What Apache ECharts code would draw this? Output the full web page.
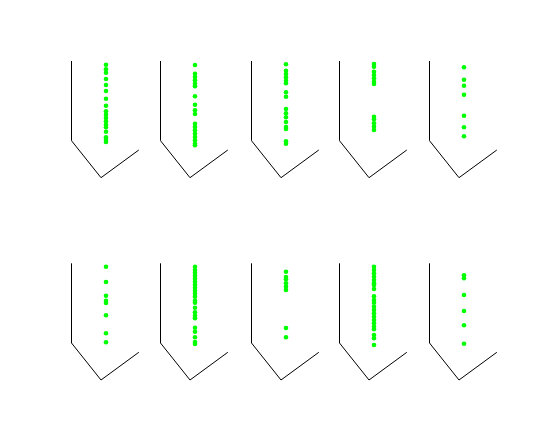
<!DOCTYPE html>
<html><head><meta charset="utf-8">
<script src="https://cdn.jsdelivr.net/npm/echarts@6/dist/echarts.min.js"></script>
<style>html,body{margin:0;padding:0;background:#fff}#c{width:550px;height:427px}</style>
</head><body><div id="c"></div>
<script>
// Outline of each hopper (same in every panel)
const outlineX = [0, 0, 29.5, 67.3];
const outlineY = [116.7, 37, 0, 27.7];
// Horizontal position of the particle column
const dotX = 34.5;
// Particle heights per panel
const dots1 = [113, 108.4, 105, 98.7, 92.7, 86.7, 79, 72, 66.4, 63, 59.7, 56.4, 53, 50.4, 46, 40.4, 38, 35.7];
const dots2 = [112.7, 104, 100.7, 97.4, 94, 91.4, 81.4, 73, 67.4, 63.7, 54, 50.7, 47.4, 44, 40.7, 37.4, 34, 32.4];
const dots3 = [113.4, 107, 103.7, 100.4, 97, 94.4, 85.4, 81, 68.7, 64.4, 60.4, 55.7, 50.7, 48.7, 36.4, 34];
const dots4 = [113.7, 111, 106, 102.7, 99.4, 96, 93.7, 61, 58.4, 54.4, 51, 47.7];
const dots5 = [110.4, 98, 92, 83, 62, 50.4, 41.4];
const dots6 = [113.3, 98, 84.3, 79.3, 77, 64.7, 46.7, 37.7];
const dots7 = [113.3, 110, 107.3, 104.3, 101.3, 98.3, 95.3, 92.3, 89.3, 86.3, 83.3, 79.3, 77.3, 72.3, 67.7, 64.3, 61.7, 52.3, 48.3, 42.7, 38, 36];
const dots8 = [108.3, 103, 100.7, 96.7, 93.3, 90, 52, 42.7];
const dots9 = [113.3, 110, 106.7, 103.3, 100, 96.7, 95, 91, 83.7, 80, 77.3, 73.3, 70, 66.7, 63.3, 60, 56.7, 53.3, 50.7, 45, 41.7, 35];
const dots10 = [104.7, 101.7, 85, 69, 54.7, 36.3];
const panels = [dots1, dots2, dots3, dots4, dots5, dots6, dots7, dots8, dots9, dots10];

// layout
const panelLeft = [71.5, 160.5, 251.5, 339.5, 429.5];
const rowTop = [61, 263.3];
const panelW = 67.3, panelH = 116.7;

const grids = [], xAxes = [], yAxes = [], series = [];
panels.forEach((d, k) => {
  const r = Math.floor(k / 5), c = k % 5;
  grids.push({left: panelLeft[c], top: rowTop[r], width: panelW, height: panelH, containLabel: false});
  xAxes.push({gridIndex: k, type: 'value', min: 0, max: 67.3, show: false});
  yAxes.push({gridIndex: k, type: 'value', min: 0, max: 116.7, show: false});
  series.push({
    type: 'line', xAxisIndex: k, yAxisIndex: k, clip: false, silent: true,
    symbol: 'none', lineStyle: {color: '#000', width: 1},
    data: outlineX.map((x, i) => [x, outlineY[i]])
  });
  series.push({
    type: 'scatter', xAxisIndex: k, yAxisIndex: k, clip: false, silent: true,
    symbol: 'circle', symbolSize: 4.6, itemStyle: {color: '#00ff00', opacity: 1},
    data: d.map(y => [dotX, y])
  });
});

const chart = echarts.init(document.getElementById('c'), null, {renderer: 'canvas'});
chart.setOption({
  animation: false,
  backgroundColor: '#fff',
  grid: grids, xAxis: xAxes, yAxis: yAxes, series: series
});
</script></body></html>
